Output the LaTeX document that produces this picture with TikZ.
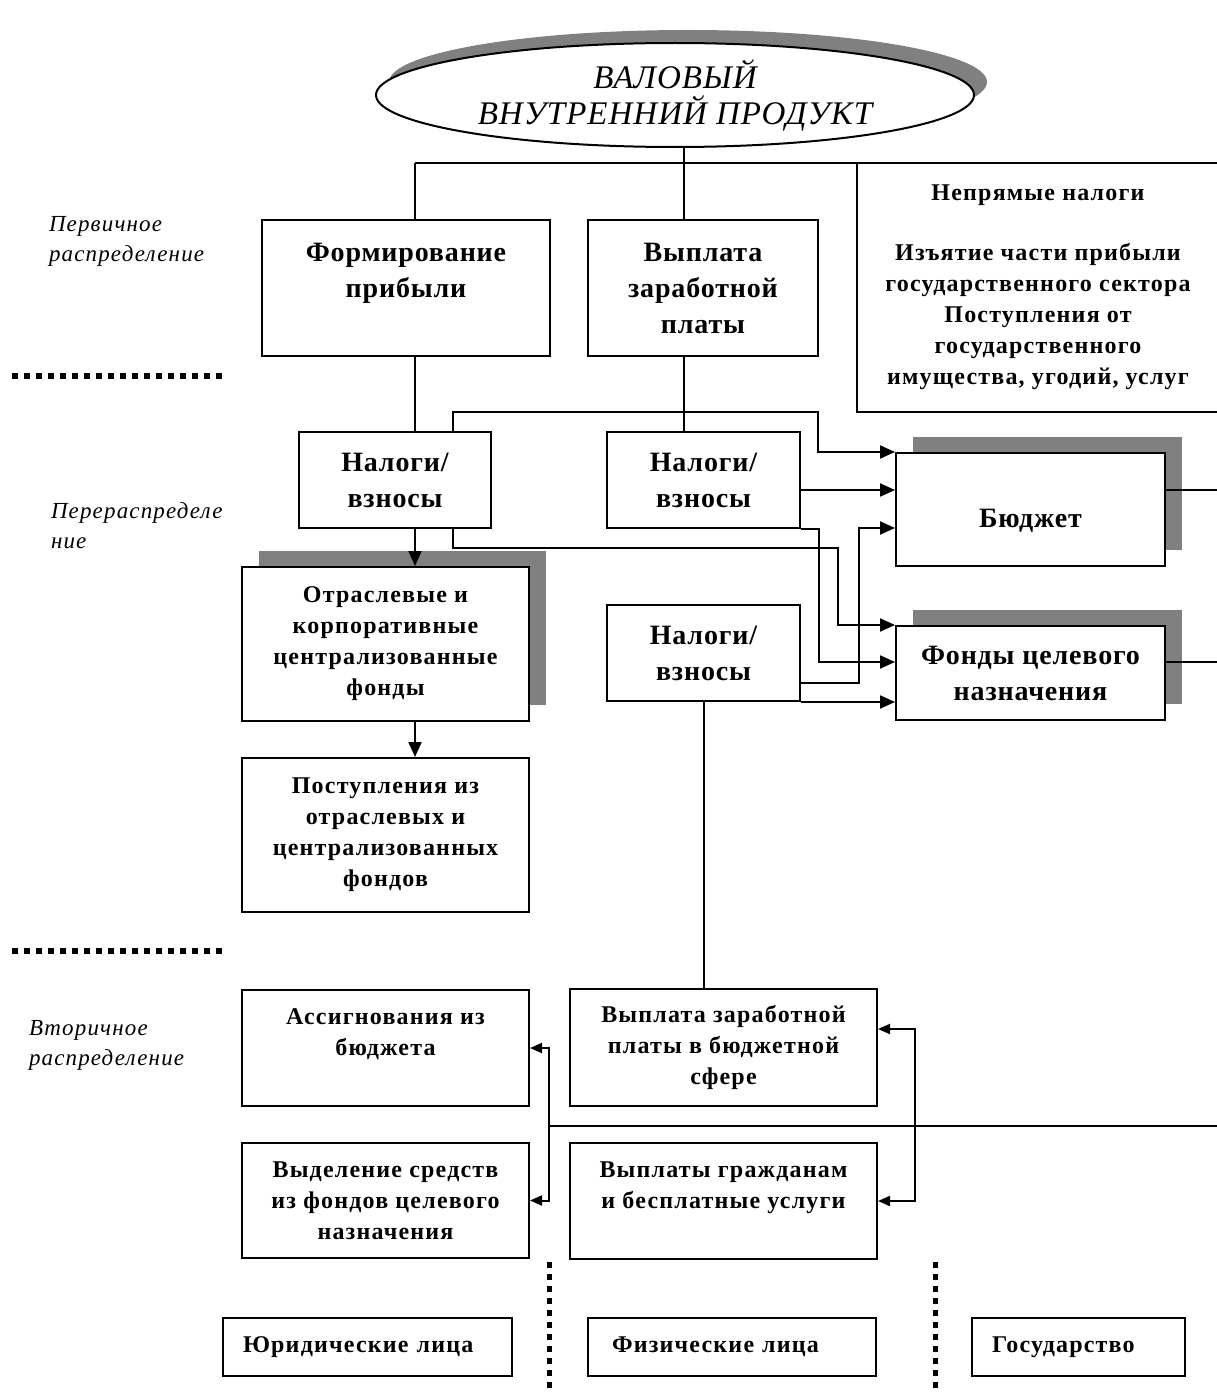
\documentclass[tikz,border=0pt]{standalone}
\usepackage{fontspec}
\setmainfont{Liberation Serif}
\newfontfamily\bigfont[LetterSpace=3]{Liberation Serif}
\newfontfamily\smallfont[LetterSpace=5]{Liberation Serif}
\newfontfamily\sidefont[LetterSpace=5]{Liberation Serif}
\usetikzlibrary{arrows.meta,shapes.geometric,shadows}

\begin{document}
\begin{tikzpicture}[x=1pt,y=-1pt,line width=2pt,
    box/.style={draw,fill=white,align=center,inner sep=0pt},
    bigtxt/.style={font=\fontsize{28}{36}\selectfont\bigfont\bfseries},
    smalltxt/.style={font=\fontsize{24}{31}\selectfont\smallfont\bfseries},
    shadowed/.style={drop shadow={shadow xshift=17pt,shadow yshift=16pt,fill=gray,opacity=1}},
    side/.style={font=\fontsize{23}{30}\selectfont\sidefont\itshape,align=left,anchor=west,inner sep=0pt},
    arr/.style={-{Triangle[length=15pt,width=13pt]}},
    arrsmall/.style={-{Triangle[length=12pt,width=10pt]}},
    dots/.style={line width=6pt,dash pattern=on 6pt off 6pt}]
  \useasboundingbox (0,0) rectangle (1216,1394);

  \node[ellipse,draw,fill=white,minimum width=598,minimum height=104,inner sep=0pt,
    drop shadow={shadow xshift=13pt,shadow yshift=13pt,fill=gray,opacity=1},
    font=\fontsize{33}{36}\selectfont\bigfont\itshape,align=center] (gdp) at (675,95)
    {ВАЛОВЫЙ\\ВНУТРЕННИЙ ПРОДУКТ};

  \node[side] (lab1) at (48,241) {Первичное\\распределение};
  \node[side] (lab2) at (50,526) {Перераспределе\\ние};
  \node[side] (lab3) at (28,1045) {Вторичное\\распределение};

  \node[box,bigtxt,minimum width=288,minimum height=136] (form) at (406,288) {Формирование\\прибыли\\\mbox{}};
  \node[box,bigtxt,minimum width=230,minimum height=136] (wage) at (703,288) {Выплата\\заработной\\платы};
  \node[box,smalltxt,minimum width=362,minimum height=249] (indir) at (1038,287.5)
    {Непрямые налоги\\[29pt]Изъятие части прибыли\\государственного сектора\\Поступления от\\государственного\\имущества, угодий, услуг};

  \node[box,bigtxt,minimum width=192,minimum height=96] (tax1) at (395,480) {Налоги/\\взносы};
  \node[box,bigtxt,minimum width=193,minimum height=96] (tax2) at (703.5,480) {Налоги/\\взносы};
  \node[box,bigtxt,minimum width=193,minimum height=96] (tax3) at (703.5,653) {Налоги/\\взносы};
  \node[box,bigtxt,shadowed,minimum width=269,minimum height=113,text height=40pt] (budget) at (1030.5,509.5) {Бюджет};
  \node[box,bigtxt,shadowed,minimum width=269,minimum height=94] (funds) at (1030.5,673) {Фонды целевого\\назначения};
  \node[box,smalltxt,shadowed,minimum width=287,minimum height=154] (branch) at (385.5,644)
    {Отраслевые и\\корпоративные\\централизованные\\фонды};
  \node[box,smalltxt,minimum width=287,minimum height=154] (recv) at (385.5,835)
    {Поступления из\\отраслевых и\\централизованных\\фондов};

  \node[box,smalltxt,minimum width=287,minimum height=116] (approp) at (385.5,1048) {Ассигнования из\\бюджета\\\mbox{}};
  \node[box,smalltxt,minimum width=287,minimum height=115] (alloc) at (385.5,1200.5) {Выделение средств\\из фондов целевого\\назначения};
  \node[box,smalltxt,minimum width=307,minimum height=117] (wagepub) at (723.5,1047.5) {Выплата заработной\\платы в бюджетной\\сфере};
  \node[box,smalltxt,minimum width=307,minimum height=116] (pay) at (723.5,1201) {Выплаты гражданам\\и бесплатные услуги\\\mbox{}};

  \node[box,smalltxt,align=left,text width=249,inner xsep=20pt,minimum height=58] (legal) at (367.5,1347) {Юридические лица};
  \node[box,smalltxt,align=left,text width=240,inner xsep=24pt,minimum height=58] (phys) at (732,1347) {Физические лица};
  \node[box,smalltxt,align=left,text width=173,inner xsep=20pt,minimum height=58] (state) at (1078.5,1347) {Государство};

  \coordinate (top) at (684,163);
  \coordinate (left) at (415,163);
  \draw (gdp.south -| top) -- (top);
  \draw (left) -- (1230,163);
  \draw (left) -- (left |- form.north);
  \draw (top) -- (top |- wage.north);
  \draw (form.south -| left) -- (tax1.north -| left);
  \draw (wage.south -| top) -- (tax2.north -| top);
  \draw[arr] (tax1.south -| left) -- (branch.north -| left);
  \draw[arr] (branch.south -| left) -- (recv.north -| left);

  \draw[arr] ([xshift=58]tax1.north) |- (818,412) |- (budget.north west);
  \draw[arr] ([yshift=-10]tax2.east) -- ([yshift=-10]tax2.east -| budget.west);
  \draw[arr] ([yshift=-30]tax3.east) -- ++(58,0) |- ([yshift=-18.5]budget.west);
  \draw[arr] ([xshift=58]tax1.south) |- (838,548) |- (funds.north west);
  \draw[arr] (tax2.south east) -- ++(18,0) |- ([yshift=11]funds.west);
  \draw[arr] (tax3.south east) -- (tax3.south east -| funds.west);
  \draw (tax3.south) -- (tax3.south |- wagepub.north);
  \draw ([yshift=19.5]budget.east) -- ++(70,0);
  \draw ([yshift=11]funds.east) -- ++(70,0);

  \coordinate (split) at (549,1126);
  \coordinate (split2) at (915,1126);
  \draw (split) -- (1230,1126);
  \draw[arrsmall] (split) |- (approp.east);
  \draw[arrsmall] (split) |- (alloc.east);
  \draw[arrsmall] (split2) |- ([yshift=18.5]wagepub.east);
  \draw[arrsmall] (split2) |- (pay.east);

  \draw[dots] (12,376) -- (224,376);
  \draw[dots] (12,951) -- (224,951);
  \draw[dots,line width=5pt] (549,1262) -- (549,1394);
  \draw[dots,line width=5pt] (935,1262) -- (935,1394);
\end{tikzpicture}
\end{document}
